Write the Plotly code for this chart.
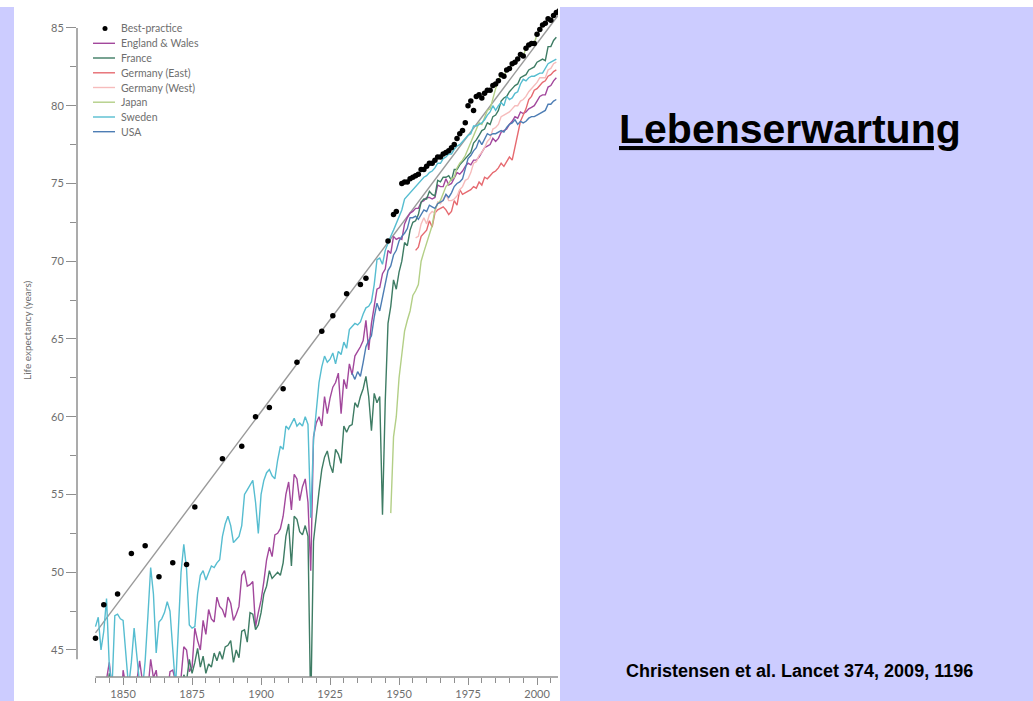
import plotly.graph_objects as go

# ---------------- data: female life expectancy (years) ----------------
bp_years = [1840, 1843, 1848, 1853, 1858, 1863, 1868, 1873, 1876, 1886, 1893, 1898,
            1903, 1908, 1913, 1922, 1926, 1931, 1936, 1938, 1946, 1948, 1949,
            1951, 1952, 1953, 1954, 1955, 1956, 1957, 1958, 1959, 1960, 1961, 1962,
            1963, 1964, 1965, 1966, 1967, 1968, 1969, 1970, 1971, 1972, 1973, 1974,
            1975, 1976, 1977, 1978, 1979, 1980, 1981, 1982, 1983, 1984, 1985, 1986,
            1987, 1988, 1989, 1990, 1991, 1992, 1993, 1994, 1995, 1996, 1997, 1998,
            1999, 2000, 2001, 2002, 2003, 2004, 2005, 2006, 2007, 2008]
bp_values = [45.75, 47.9, 48.6, 51.2, 51.7, 49.7, 50.6, 50.5, 54.2, 57.3, 58.1, 60.0,
             60.6, 61.8, 63.5, 65.5, 66.5, 67.9, 68.5, 68.9, 71.3, 73.0, 73.2,
             75.0, 75.1, 75.1, 75.3, 75.4, 75.5, 75.6, 75.9, 75.9, 76.1, 76.3, 76.3,
             76.5, 76.7, 76.7, 76.9, 77.0, 77.1, 77.3, 77.5, 77.9, 78.2, 78.4, 78.9,
             80.0, 80.3, 79.7, 80.6, 80.7, 80.5, 80.8, 81.0, 81.0, 81.3, 81.4, 81.6,
             82.0, 81.9, 82.3, 82.4, 82.7, 82.8, 83.0, 83.3, 83.2, 83.7, 83.9, 84.0,
             84.0, 84.6, 84.9, 85.2, 85.3, 85.6, 85.5, 85.8, 86.0, 86.1]

trend_years = [1840, 2008]
trend_values = [46.1, 85.9]

ew_years = list(range(1841, 2008))
ew_values = [42.0, 42.6, 42.9, 43.1, 44.2, 42.2, 40.8, 41.6, 39.9, 43.7,
             42.7, 42.4, 42.1, 41.7, 43.0, 44.3, 43.0, 41.5, 42.4, 44.4,
             43.2, 43.7, 42.1, 41.2, 42.0, 42.1, 43.6, 43.7, 43.0, 42.8,
             43.2, 45.2, 45.0, 43.6, 43.9, 46.4, 45.6, 45.0, 46.9, 46.0,
             47.6, 47.0, 46.8, 48.4, 47.8, 47.6, 47.1, 48.4, 48.0, 46.9,
             47.3, 47.8, 49.8, 50.1, 49.1, 49.2, 49.4, 46.5, 47.4, 48.2,
             49.4, 50.8, 51.6, 51.0, 52.4, 52.5, 52.8, 53.6, 55.0, 55.8,
             54.0, 56.3, 56.0, 54.6, 55.5, 56.0, 54.5, 50.1, 58.7, 59.6,
             60.0, 59.4, 61.3, 60.2, 61.2, 61.9, 62.2, 62.8, 60.2, 62.4,
             61.8, 63.4, 62.7, 63.9, 64.2, 64.5, 64.9, 66.2, 64.3, 66.0,
             67.1, 68.2, 68.3, 69.2, 69.5, 70.7, 70.5, 71.6, 71.4, 71.5,
             71.4, 72.4, 72.8, 73.1, 73.2, 73.4, 73.4, 73.8, 73.9, 74.1,
             74.1, 74.0, 74.1, 74.9, 74.8, 74.8, 75.3, 74.9, 75.0, 75.4,
             75.7, 75.6, 75.8, 76.1, 76.3, 76.2, 76.5, 76.5, 76.7, 77.0,
             77.3, 77.4, 77.5, 77.9, 77.7, 77.9, 78.3, 78.4, 78.5, 78.8,
             79.0, 79.3, 79.2, 79.6, 79.5, 79.6, 79.8, 79.9, 80.0, 80.3,
             80.6, 80.7, 80.7, 81.2, 81.3, 81.6, 81.8]

fr_years = list(range(1840, 2008))
fr_values = [41.0, 41.8, 41.2, 41.5, 42.0, 43.5, 41.2, 40.1, 40.5, 37.8,
             42.1, 42.3, 41.4, 41.6, 38.0, 38.5, 40.8, 41.2, 41.0, 39.8,
             42.9, 41.0, 42.6, 42.5, 42.2, 41.3, 42.4, 43.0, 41.6, 42.8,
             36.0, 32.0, 43.4, 43.0, 44.4, 43.5, 44.2, 45.1, 43.9, 44.6,
             43.5, 44.1, 43.9, 44.8, 44.3, 44.9, 44.4, 45.2, 45.3, 45.6,
             44.2, 45.0, 44.5, 46.2, 46.3, 45.5, 47.4, 47.3, 46.3, 46.6,
             47.4, 48.6, 49.1, 50.1, 49.6, 49.8, 50.0, 49.8, 50.6, 52.3,
             53.1, 50.4, 53.6, 53.4, 52.6, 52.4, 53.0, 52.3, 41.0, 52.0,
             53.8, 55.2, 56.6, 57.4, 57.8, 56.9, 56.4, 57.9, 57.6, 57.0,
             59.4, 59.0, 59.4, 59.5, 60.9, 60.6, 61.3, 61.8, 62.6, 61.3,
             59.1, 61.5, 60.9, 61.3, 53.7, 61.0, 66.0, 67.1, 68.8, 68.2,
             69.3, 70.0, 71.2, 71.0, 72.0, 72.5, 72.6, 73.0, 73.8, 74.0,
             74.0, 74.5, 74.3, 74.2, 75.2, 75.1, 75.4, 75.4, 75.5, 75.2,
             75.9, 75.9, 76.2, 76.4, 76.6, 76.8, 77.0, 77.6, 77.8, 78.1,
             78.4, 78.5, 78.9, 78.8, 79.3, 79.4, 79.7, 80.3, 80.5, 80.6,
             80.9, 81.1, 81.3, 81.4, 81.8, 81.9, 82.0, 82.3, 82.4, 82.5,
             82.8, 82.9, 83.0, 82.9, 83.8, 83.8, 84.2, 84.4]

gde_years = list(range(1956, 2008))
gde_values = [70.7, 70.9, 71.6, 71.8, 72.0, 72.6, 72.2, 73.1, 73.3, 73.4,
              73.5, 73.3, 73.0, 73.2, 73.9, 73.6, 74.6, 74.3, 74.4, 74.5,
              74.6, 74.8, 74.7, 75.1, 74.9, 75.4, 75.3, 75.5, 75.7, 75.8,
              76.0, 76.3, 76.1, 76.4, 76.7, 76.5, 77.3, 78.0, 79.0, 79.4,
              79.8, 80.4, 80.6, 81.0, 81.1, 81.3, 81.5, 81.6, 81.9, 82.0,
              82.2, 82.3]

gdw_years = list(range(1956, 2008))
gdw_values = [71.5, 71.6, 72.4, 72.8, 72.4, 73.0, 73.2, 73.1, 73.8, 73.7,
              74.0, 74.3, 73.9, 73.9, 74.0, 74.2, 74.6, 74.8, 75.2, 75.3,
              75.7, 76.3, 76.4, 76.8, 77.0, 77.3, 77.7, 77.9, 78.5, 78.6,
              78.8, 79.3, 79.4, 79.5, 79.6, 79.8, 80.0, 80.0, 80.3, 80.4,
              80.6, 80.9, 81.1, 81.3, 81.5, 81.8, 81.8, 81.8, 82.3, 82.4,
              82.7, 82.8]

jp_years = list(range(1947, 2008))
jp_values = [53.8, 58.7, 60.0, 62.5, 64.0, 65.5, 66.2, 66.8, 67.8, 68.1,
             68.5, 70.0, 70.6, 71.2, 71.8, 72.3, 73.3, 73.7, 73.9, 74.4,
             74.8, 75.0, 75.3, 75.4, 76.0, 76.3, 76.5, 76.8, 77.2, 77.6,
             78.1, 78.4, 78.9, 78.8, 79.2, 79.7, 79.8, 80.5, 81.1, 81.6,
             82.0, 81.9, 82.3, 82.4, 82.7, 82.8, 83.0, 83.3, 83.2, 83.7,
             83.9, 84.0, 84.0, 84.6, 84.9, 85.2, 85.3, 85.6, 85.5, 85.8,
             86.0]

se_years = list(range(1840, 2008))
se_values = [46.5, 47.1, 45.0, 46.2, 48.3, 44.0, 42.6, 47.2, 47.3, 47.0,
             46.9, 45.0, 42.6, 44.2, 46.4, 44.6, 42.8, 42.4, 44.3, 47.2,
             50.3, 48.6, 44.8, 46.8, 47.0, 47.4, 48.1, 47.5, 44.9, 42.6,
             46.2, 50.0, 51.8, 50.2, 46.6, 46.4, 46.5, 48.6, 49.8, 50.1,
             49.5, 50.0, 50.4, 50.3, 50.6, 50.8, 52.3, 53.1, 53.6, 53.0,
             51.9, 52.1, 52.3, 53.0, 55.0, 55.3, 55.6, 55.9, 54.5, 52.5,
             55.0, 55.9, 56.4, 56.6, 56.2, 56.0, 57.2, 58.1, 57.9, 59.4,
             59.2, 59.6, 59.9, 59.4, 59.6, 59.4, 60.0, 59.5, 53.5, 58.5,
             60.5, 62.2, 63.2, 63.9, 63.5, 63.7, 64.1, 63.4, 64.2, 64.0,
             64.8, 64.4, 65.6, 65.8, 66.0, 65.9, 66.1, 66.6, 67.0, 67.1,
             67.4, 68.5, 70.1, 70.2, 69.8, 70.7, 71.2, 71.6, 72.0, 72.4,
             72.9, 73.3, 74.0, 74.2, 74.4, 74.6, 74.8, 75.0, 75.2, 75.4,
             75.5, 75.7, 75.8, 76.0, 76.3, 76.3, 76.6, 76.7, 76.9, 76.9,
             77.2, 77.4, 77.5, 77.7, 77.9, 78.1, 78.2, 78.7, 78.7, 78.8,
             78.9, 79.1, 79.4, 79.6, 80.0, 79.7, 80.0, 80.2, 80.0, 80.6,
             80.4, 80.5, 80.8, 80.9, 81.4, 81.7, 81.6, 81.8, 81.9, 81.9,
             82.0, 82.1, 82.1, 82.4, 82.7, 82.8, 82.9, 83.0]

us_years = list(range(1933, 2008))
us_values = [62.8, 62.4, 62.9, 62.6, 63.5, 64.5, 64.9, 65.2, 66.4, 67.3,
             66.8, 67.6, 68.4, 69.4, 69.7, 70.4, 70.7, 71.3, 71.6, 71.8,
             72.1, 72.8, 72.8, 72.9, 72.7, 73.0, 73.3, 73.2, 73.6, 73.5,
             73.4, 73.7, 73.8, 73.9, 74.3, 74.1, 74.4, 74.8, 75.0, 75.1,
             75.3, 75.9, 76.6, 76.8, 77.1, 77.3, 77.8, 77.5, 77.9, 78.2,
             78.1, 78.2, 78.2, 78.3, 78.4, 78.3, 78.6, 78.8, 78.9, 79.1,
             78.8, 79.0, 78.9, 79.0, 79.2, 79.3, 79.3, 79.4, 79.5, 79.6,
             79.7, 80.1, 80.1, 80.3, 80.4]

series_names = ["England & Wales", "France", "Germany (East)", "Germany (West)",
                "Japan", "Sweden", "USA"]
series_colors = ["#a2489c", "#3e7c64", "#e66a70", "#f6bcbc", "#b3cf86", "#56bdd0", "#4d7db4"]
series_data = [(ew_years, ew_values), (fr_years, fr_values), (gde_years, gde_values),
               (gdw_years, gdw_values), (jp_years, jp_values), (se_years, se_values),
               (us_years, us_values)]

x_major = [1850, 1875, 1900, 1925, 1950, 1975, 2000]
x_minor = [1840, 1845, 1855, 1860, 1865, 1870, 1880, 1885, 1890, 1895, 1905, 1910, 1915,
           1920, 1930, 1935, 1940, 1945, 1955, 1960, 1965, 1970, 1980, 1985, 1990,
           1995, 2005]
y_major = [45, 50, 55, 60, 65, 70, 75, 80, 85]
y_minor = [47.5, 52.5, 57.5, 62.5, 67.5, 72.5, 77.5, 82.5]

X_RANGE = [1833.3, 2007.6]
Y_RANGE = [43.26, 86.8]

# ---------------- page geometry (pixels) ----------------
W, H = 1033, 701
PL, PR, PT, PB = 77, 558, 0, 677


def px(x):
    return (x - PL) / (PR - PL)


def py(y):
    return (PB - y) / (PB - PT)


AXIS_GRAY = "#8f8f8f"
TEXT_GRAY = "#6e6e6e"

fig = go.Figure()

# best-practice linear trend
fig.add_trace(go.Scatter(x=trend_years, y=trend_values, mode="lines",
                         line=dict(color="#9a9a9a", width=1.4),
                         hoverinfo="skip", showlegend=False))

for name, color, (xs, ys) in zip(series_names, series_colors, series_data):
    fig.add_trace(go.Scatter(x=xs, y=ys, mode="lines", name=name,
                             line=dict(color=color, width=1.4),
                             showlegend=False))

fig.add_trace(go.Scatter(x=bp_years, y=bp_values, mode="markers", name="Best-practice",
                         marker=dict(color="black", size=5.5),
                         showlegend=False))

shapes = [
    # white panel holding the chart
    dict(type="rect", xref="paper", yref="paper", x0=px(14), x1=px(560), y0=py(701), y1=py(0),
         fillcolor="white", line=dict(width=0), layer="below"),
    dict(type="rect", xref="paper", yref="paper", x0=px(0), x1=px(W), y0=py(7), y1=py(0),
         fillcolor="white", line=dict(width=0), layer="below"),
    # axis spines
    dict(type="line", xref="paper", yref="y", x0=0, x1=0, y0=44.4, y1=85,
         line=dict(color=AXIS_GRAY, width=1.5)),
    dict(type="line", xref="x", yref="paper", x0=1840, x1=2007.6, y0=0, y1=0,
         line=dict(color=AXIS_GRAY, width=1.5)),
]

annotations = []

# legend
legend_rows = [28.5, 43.3, 58.0, 72.8, 87.5, 102.2, 117.0, 131.7]
legend_labels = ["Best-practice"] + series_names
for i, (label, yrow) in enumerate(zip(legend_labels, legend_rows)):
    if i == 0:
        shapes.append(dict(type="circle", xref="paper", yref="paper",
                           x0=px(102.5), x1=px(107.5), y0=py(yrow + 2.5), y1=py(yrow - 2.5),
                           fillcolor="black", line=dict(width=0)))
    else:
        shapes.append(dict(type="line", xref="paper", yref="paper",
                           x0=px(93), x1=px(115), y0=py(yrow), y1=py(yrow),
                           line=dict(color=series_colors[i - 1], width=1.4)))
    annotations.append(dict(text=label, xref="paper", yref="paper", x=px(119), y=py(yrow),
                            xanchor="left", yanchor="middle", showarrow=False,
                            font=dict(family="Lato", size=10.5, color=TEXT_GRAY)))

# axis title
annotations.append(dict(text="Life expectancy (years)", xref="paper", yref="paper",
                        x=px(27), y=py(330), textangle=-90, showarrow=False,
                        xanchor="center", yanchor="middle",
                        font=dict(family="Lato", size=10, color=TEXT_GRAY)))

# slide title and reference
annotations.append(dict(text="<b><u>Lebenserwartung</u></b>", xref="paper", yref="paper",
                        x=px(790), y=py(128.6), showarrow=False,
                        xanchor="center", yanchor="middle",
                        font=dict(family="Liberation Sans, Arial", size=41, color="black")))
annotations.append(dict(text="<b>Christensen et al. Lancet 374, 2009, 1196</b>",
                        xref="paper", yref="paper", x=px(799), y=py(670.5), showarrow=False,
                        xanchor="center", yanchor="middle",
                        font=dict(family="Liberation Sans, Arial", size=18, color="black")))

fig.update_layout(
    width=W, height=H,
    margin=dict(l=PL, r=W - PR, t=PT, b=H - PB, pad=0),
    paper_bgcolor="#ccccff",
    plot_bgcolor="rgba(0,0,0,0)",
    showlegend=False,
    shapes=shapes,
    annotations=annotations,
    xaxis=dict(range=X_RANGE, showgrid=False, zeroline=False, showline=False,
               tickmode="array", tickvals=x_major, ticks="outside", ticklen=7,
               tickwidth=1.2, tickcolor=AXIS_GRAY,
               tickfont=dict(family="Lato", size=11, color=TEXT_GRAY),
               minor=dict(tickmode="array", tickvals=x_minor, ticks="outside",
                          ticklen=5, tickwidth=1.2, tickcolor=AXIS_GRAY, showgrid=False)),
    yaxis=dict(range=Y_RANGE, showgrid=False, zeroline=False, showline=False,
               tickmode="array", tickvals=y_major, ticks="outside", ticklen=10,
               tickwidth=1.2, tickcolor=AXIS_GRAY,
               tickfont=dict(family="Lato", size=11, color=TEXT_GRAY),
               minor=dict(tickmode="array", tickvals=y_minor, ticks="outside",
                          ticklen=6, tickwidth=1.2, tickcolor=AXIS_GRAY, showgrid=False)),
)

fig.write_html("out.html")
